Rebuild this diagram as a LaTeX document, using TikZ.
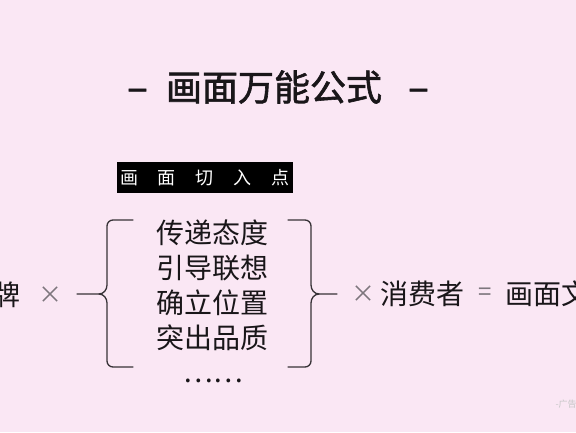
\documentclass[tikz,border=0pt]{standalone}
\usepackage{fontspec}
\usepackage{tikz}
\usetikzlibrary{positioning}
\newfontfamily\cjk{Noto Sans CJK SC}
\newfontfamily\cjktitle[FakeBold=1.6]{Noto Sans CJK SC}
\newfontfamily\dashfont[FakeBold=1.6]{Noto Sans}
\definecolor{bgpink}{RGB}{250,231,244}
\definecolor{inkblack}{RGB}{25,22,25}
\definecolor{symgray}{RGB}{125,118,125}
\definecolor{bracegray}{RGB}{55,50,55}
\tikzset{
    % 括号线条
    bracestyle/.style={
        line width=1.3bp,
        bracegray,
        line cap=round
    },
    % 标题文字
    titletext/.style={
        font=\cjktitle\fontsize{36bp}{36bp}\selectfont,
        text=inkblack,
        inner sep=0pt
    },
    % 标题两侧短横
    dashtext/.style={
        font=\dashfont\fontsize{34bp}{34bp}\selectfont,
        text=inkblack,
        xscale=1.2,
        inner sep=0pt
    },
    % 正文文字
    bodytext/.style={
        font=\cjk\fontsize{28bp}{35bp}\selectfont,
        text=inkblack,
        inner sep=0pt
    },
    % 乘号、等号
    symtext/.style={
        font=\cjk\fontsize{24bp}{24bp}\selectfont,
        text=symgray,
        inner sep=0pt
    },
    % 黑底白字标签
    tagbox/.style={
        fill=black,
        text=white,
        minimum width=176bp,
        minimum height=31bp,
        inner sep=0pt,
        font=\cjk\fontsize{18bp}{18bp}\selectfont
    }
}

\begin{document}
\begin{tikzpicture}[x=1bp,y=-1bp]
	\fill[bgpink] (0,0) rectangle (576,432);
	\useasboundingbox (0,0) rectangle (576,432);
	\clip (0,0) rectangle (576,432);
	
	% 标题
	\node[titletext] (title) at (274,87) {画面万能公式};
	\node[dashtext] (dashL) at (137.5,94) {–};
	\node[dashtext] (dashR) at (418.5,94) {–};
	
	% 标签
	\node[tagbox] (tag) at (205,177.5) {画\hspace{20bp}面\hspace{20bp}切\hspace{20bp}入\hspace{20bp}点};
	
	% 中间四行
	\node[bodytext,align=center] (items) at (212.5,285.5) {传递态度\\引导联想\\确立位置\\突出品质};
	\node[bodytext] (dots) at (213,381) {……};
	
	% 左右两侧
	\node[bodytext,anchor=east] (brand) at (21,295) {牌};
	\node[symtext] (times1) at (50,295) {×};
	\node[symtext] (times2) at (363,294) {×};
	\node[bodytext] (consumer) at (422,294) {消费者};
	\node[symtext] (equal) at (485,294) {=};
	\node[bodytext,anchor=west] (result) at (505,294) {画面文};
	
	% 括号
	\path
	(77,294) coordinate (l1)
	(99,294) coordinate (l2)
	(337,294) coordinate (r1)
	(319,294) coordinate (r2);
	
	\draw[bracestyle] (133,220) -- (113,220) to[out=180,in=90] (107,226) -- (107,285) to[out=-90,in=0] (l2) -- (l1);
	\draw[bracestyle] (l2) to[out=0,in=90] (107,303) -- (107,361) to[out=-90,in=180] (113,367) -- (133,367);
	
	\draw[bracestyle] (288,220) -- (305,220) to[out=0,in=90] (311,226) -- (311,285) to[out=-90,in=180] (r2) -- (r1);
	\draw[bracestyle] (r2) to[out=180,in=90] (311,303) -- (311,361) to[out=-90,in=0] (305,367) -- (288,367);
	
	% 水印
	\node[font=\cjk\fontsize{9bp}{9bp}\selectfont,text=gray!45,anchor=west] (mark) at (552,404) {-广告};
\end{tikzpicture}
\end{document}
